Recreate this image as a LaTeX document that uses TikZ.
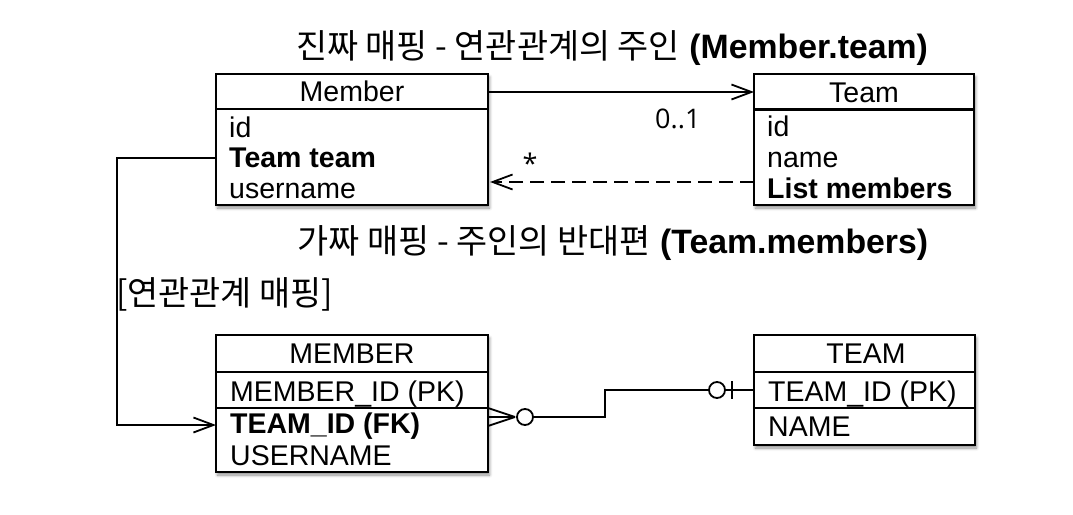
\documentclass[tikz,border=0pt]{standalone}
\usepackage{fontspec}
\setmainfont{Liberation Sans}
\newfontfamily\kr{Noto Sans CJK KR}
\newfontfamily\osans{Open Sans}
\usetikzlibrary{arrows.meta,shadows.blur,calc}
\begin{document}
\begin{tikzpicture}[x=1pt,y=-1pt,
  box/.style={draw, line width=2.4pt, fill=white, rectangle, inner sep=0pt, outer sep=0pt,
    blur shadow={shadow xshift=1.5pt, shadow yshift=-3pt, shadow blur steps=6, shadow blur radius=3pt, shadow opacity=45}},
  divider/.style={line width=2.4pt},
  lbl/.style={font=\fontsize{28.5}{31}\selectfont, inner sep=0pt, anchor=base west},
  blbl/.style={font=\fontsize{28.5}{31}\selectfont\bfseries, inner sep=0pt, anchor=base west},
  hdr/.style={font=\fontsize{28.5}{31}\selectfont, inner sep=0pt, anchor=base},
  ttl/.style={font=\fontsize{33.8}{38}\selectfont, inner sep=0pt, anchor=base},
  mult/.style={font=\osans\fontsize{27}{30}\selectfont, inner sep=0pt},
  conn/.style={line width=1.8pt},
  openarrow/.style={-{Straight Barb[length=20pt,width=15pt,line width=1.8pt]}}
]
\useasboundingbox (0,0) rectangle (1073,514);

% titles
\node[ttl] (t1) at (612,58) {{\kr 진짜 매핑 - 연관관계의 주인} \textbf{(Member.team)}};
\node[ttl] (t2) at (613,253) {{\kr 가짜 매핑 - 주인의 반대편} \textbf{(Team.members)}};
\node[ttl, anchor=base west] (t3) at (116,305) {{\kr [연관관계 매핑]}};

% boxes
\node[box, minimum width=272pt, minimum height=131pt] (Member) at (352,139.5) {};
\node[box, minimum width=220pt, minimum height=131pt] (Team) at (864,139.5) {};
\node[box, minimum width=272pt, minimum height=137pt] (MEMBER) at (352,403.5) {};
\node[box, minimum width=221pt, minimum height=110pt] (TEAM) at (864.5,390) {};

\draw[divider] ($(Member.north west)+(0,35)$) -- ($(Member.north east)+(0,35)$);
\draw[divider] ($(Team.north west)+(0,35.5)$) -- ($(Team.north east)+(0,35.5)$);
\draw[divider] ($(MEMBER.north west)+(0,37)$) -- ($(MEMBER.north east)+(0,37)$);
\draw[divider] ($(MEMBER.north west)+(0,73)$) -- ($(MEMBER.north east)+(0,73)$);
\draw[divider] ($(TEAM.north west)+(0,37)$) -- ($(TEAM.north east)+(0,37)$);
\draw[divider] ($(TEAM.north west)+(0,73)$) -- ($(TEAM.north east)+(0,73)$);

% Member texts
\node[hdr] (mh) at (352,101) {Member};
\node[lbl] (m1) at (229,137) {id};
\node[blbl] (m2) at (229,167) {Team team};
\node[lbl] (m3) at (229,198) {username};
% Team texts
\node[hdr] (th) at (864,102) {Team};
\node[lbl] (tm1) at (767,136) {id};
\node[lbl] (tm2) at (767,167) {name};
\node[blbl] (tm3) at (767,198) {List members};
% MEMBER texts
\node[hdr] (MH) at (352,363) {MEMBER};
\node[lbl] (M1) at (230,401) {MEMBER\_ID (PK)};
\node[blbl] (M2) at (230,433) {TEAM\_ID (FK)};
\node[lbl] (M3) at (230,465) {USERNAME};
% TEAM texts
\node[hdr] (TH) at (866,363) {TEAM};
\node[lbl] (T1) at (768,401) {TEAM\_ID (PK)};
\node[lbl] (T2) at (768,436) {NAME};

% object associations
\draw[conn, openarrow] ($(Member.north east)+(0,18)$) -- ($(Team.north west)+(0,18)$);
\draw[conn, openarrow, dash pattern=on 14pt off 7pt] ($(Team.north west)+(0,108)$) -- ($(Member.north east)+(2,108)$);
\node[mult, anchor=base west] (n01) at (655,128) {0..1};
\node[mult, anchor=base] (nstar) at (530,173) {*};

% mapping connector
\draw[conn, openarrow] ($(Member.north west)+(0,84)$) -- ++(-99,0) |- ($(MEMBER.north west)+(0,90)$);

% ER relation
\coordinate (cf) at ($(MEMBER.north east)+(27,82)$);
\draw[conn] ($(MEMBER.north east)+(0,73)$) -- (cf);
\draw[conn] ($(MEMBER.north east)+(0,82)$) -- (cf);
\draw[conn] ($(MEMBER.north east)+(0,91)$) -- (cf);
\draw[conn] ($(cf)+(10,0)$) circle (8pt);
\draw[conn] ($(MEMBER.north east)+(45,82)$) -- ++(72,0) |- ($(TEAM.north west)+(-45,55)$);
\draw[conn] ($(TEAM.north west)+(-37,55)$) circle (8pt);
\draw[conn] ($(TEAM.north west)+(-29,55)$) -- ($(TEAM.north west)+(0,55)$);
\draw[conn] ($(TEAM.north west)+(-22,46)$) -- ($(TEAM.north west)+(-22,64)$);
\end{tikzpicture}
\end{document}
